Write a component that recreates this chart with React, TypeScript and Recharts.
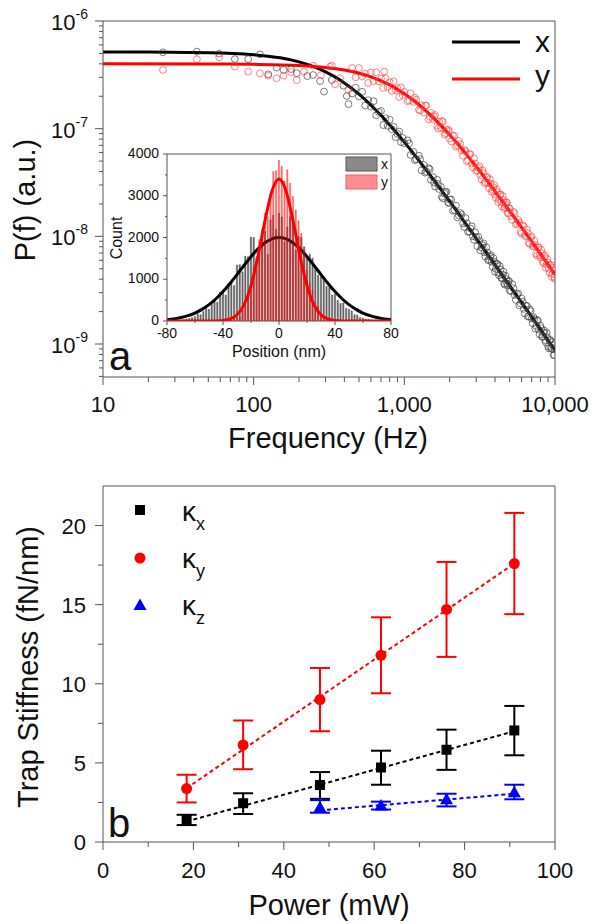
import React from 'react';
import {
  ComposedChart,
  Scatter,
  Line,
  Bar,
  XAxis,
  YAxis,
  ReferenceLine,
  ErrorBar,
  CartesianGrid,
} from 'recharts';

const FONT = '"Liberation Sans", Arial, Helvetica, sans-serif';
const AXIS = '#555';
const INK = '#111';

// ---------- panel a: power spectra ----------
const blackFreq = [
  25, 42, 59, 75, 92, 110, 125, 142, 158, 177, 193, 227, 248, 276, 293, 330, 394, 415, 426,
  450, 475, 500, 525, 550, 575, 600, 625, 650, 675, 700, 725, 750, 775, 800, 825, 850, 875, 900, 925, 950, 975, 1000,
  1050, 1100, 1150, 1200, 1250, 1300, 1350, 1400, 1450, 1500, 1550, 1600, 1650, 1700, 1750, 1800, 1850, 1900, 1950, 2000,
  2100, 2200, 2300, 2400, 2500, 2600, 2700, 2800, 2900, 3000, 3100, 3200, 3300, 3400, 3500, 3600, 3700, 3800, 3900,
  4000, 4100, 4200, 4300, 4400, 4500, 4600, 4700, 4800, 4900,
  5000, 5200, 5400, 5600, 5800, 6000, 6200, 6400, 6600, 6800, 7000, 7200, 7400, 7600, 7800, 8000, 8200, 8400, 8600,
  8800, 9000, 9200, 9400, 9600, 9800, 9950,
];
const blackPsd = [
  5.12e-7, 5.2e-7, 4.97e-7, 4.43e-7, 4.43e-7, 4.9e-7, 3.2e-7, 3.69e-7, 3.51e-7, 3.58e-7, 3.27e-7, 3.08e-7, 3.15e-7,
  2.77e-7, 2.21e-7, 2.83e-7, 2.51e-7, 2.01e-7, 1.69e-7,
  2.12e-7, 2.4e-7, 1.99e-7, 2.2e-7, 1.64e-7, 1.84e-7, 1.6e-7, 1.8e-7, 1.33e-7, 1.43e-7, 1.46e-7, 1.08e-7, 1.25e-7,
  1.06e-7, 1.21e-7, 9.9e-8, 1.04e-7, 8.35e-8, 8.95e-8, 9.4e-8, 7.5e-8, 8.2e-8, 7.3e-8,
  7.8e-8, 5.7e-8, 6.1e-8, 5.2e-8, 5.6e-8, 4.1e-8, 4.6e-8, 4.0e-8, 4.3e-8, 3.35e-8, 3.55e-8, 2.9e-8, 3.35e-8, 2.75e-8,
  2.88e-8, 2.26e-8, 2.5e-8, 2.6e-8, 2.08e-8, 2.2e-8,
  1.73e-8, 1.93e-8, 1.56e-8, 1.6e-8, 1.22e-8, 1.32e-8, 1.11e-8, 1.24e-8, 9.3e-9, 9.8e-9, 9.9e-9, 7.4e-9, 8.3e-9,
  7.1e-9, 7.9e-9, 6.0e-9, 6.5e-9, 5.8e-9, 6.3e-9,
  4.7e-9, 5.5e-9, 4.6e-9, 5.3e-9, 4.1e-9, 4.4e-9, 3.65e-9, 4.3e-9, 3.65e-9, 3.8e-9,
  3.15e-9, 3.6e-9, 2.85e-9, 2.9e-9, 2.28e-9, 2.65e-9, 2.12e-9, 2.26e-9, 1.8e-9, 2.1e-9, 1.72e-9, 1.78e-9, 1.39e-9,
  1.67e-9, 1.36e-9, 1.48e-9, 1.17e-9, 1.28e-9, 1.09e-9, 1.27e-9, 9.5e-10, 1.08e-9, 9.2e-10, 1.04e-9, 7.9e-10, 8.9e-10,
];

const redFreq = [
  25, 42, 59, 75, 92, 110, 125, 142, 158, 177, 193, 216, 248, 280, 321, 330, 347, 375, 426,
  450, 475, 500, 525, 550, 575, 600, 625, 650, 675, 700, 725, 735, 750, 775, 800, 825, 850, 875, 900, 925, 950, 975, 1000,
  1050, 1100, 1150, 1200, 1250, 1300, 1350, 1400, 1450, 1500, 1550, 1600, 1650, 1700, 1750, 1800, 1850, 1900, 1950, 2000,
  2100, 2200, 2300, 2400, 2500, 2600, 2700, 2800, 2900, 3000, 3100, 3200, 3300, 3400, 3500, 3600, 3700, 3800, 3900,
  4000, 4100, 4200, 4300, 4400, 4500, 4600, 4700, 4800, 4900,
  5000, 5200, 5400, 5600, 5800, 6000, 6200, 6400, 6600, 6800, 7000, 7200, 7400, 7600, 7800, 8000, 8200, 8400, 8600,
  8800, 9000, 9200, 9400, 9600, 9800, 9950,
];
const redPsd = [
  3.51e-7, 4.41e-7, 4.6e-7, 3.77e-7, 3.39e-7, 3.27e-7, 3.1e-7, 2.94e-7, 3.1e-7, 3.35e-7, 2.83e-7, 3.39e-7, 3.85e-7,
  3.15e-7, 3.77e-7, 3.85e-7, 2.58e-7, 2.94e-7, 2.29e-7,
  3.66e-7, 3.0e-7, 3.66e-7, 3.05e-7, 3.24e-7, 2.66e-7, 3.33e-7, 2.76e-7, 3.34e-7, 2.75e-7, 2.92e-7, 2.39e-7, 3.39e-7,
  2.93e-7, 2.44e-7, 2.7e-7, 2.24e-7, 2.75e-7, 2.28e-7, 2.37e-7, 1.97e-7, 2.42e-7, 2.05e-7, 2.19e-7,
  1.8e-7, 2.13e-7, 1.77e-7, 1.86e-7, 1.5e-7, 1.65e-7, 1.41e-7, 1.64e-7, 1.22e-7, 1.4e-7, 1.23e-7, 1.34e-7, 1.06e-7,
  1.16e-7, 1.02e-7, 1.16e-7, 8.8e-8, 9.7e-8, 9.8e-8, 8.1e-8,
  8.6e-8, 6.8e-8, 7.7e-8, 6.26e-8, 6.33e-8, 4.96e-8, 5.8e-8, 4.76e-8, 5.3e-8, 4.04e-8, 4.3e-8, 3.71e-8, 4.1e-8,
  3.12e-8, 3.53e-8, 3.1e-8, 3.4e-8, 2.59e-8, 2.86e-8,
  2.44e-8, 2.73e-8, 2.08e-8, 2.43e-8, 2.08e-8, 2.37e-8, 1.81e-8, 1.97e-8, 2.05e-8, 1.65e-8,
  1.81e-8, 1.42e-8, 1.64e-8, 1.32e-8, 1.34e-8, 1.06e-8, 1.24e-8, 1.0e-8, 1.07e-8, 8.5e-9, 1.0e-8, 8.1e-9, 8.3e-9,
  6.6e-9, 7.9e-9, 6.4e-9, 6.96e-9, 5.63e-9, 6.64e-9, 5.5e-9, 5.69e-9, 4.61e-9, 5.42e-9, 4.47e-9, 4.85e-9, 4.03e-9,
];

// second, interleaved set of spectrum points (the band is dense above 1 kHz)
const extraFreq = [
  1075, 1175, 1275, 1375, 1475, 1575, 1675, 1775, 1875, 1975,
  2050, 2150, 2250, 2350, 2450, 2550, 2650, 2750, 2850, 2950, 3050, 3150, 3250, 3350, 3450, 3550, 3650, 3750, 3850, 3950,
  4050, 4150, 4250, 4350, 4450, 4550, 4650, 4750, 4850, 4950,
  5100, 5300, 5500, 5700, 5900, 6100, 6300, 6500, 6700, 6900, 7100, 7300, 7500, 7700, 7900, 8100, 8300, 8500, 8700,
  8900, 9100, 9300, 9500, 9700, 9900,
];
const blackExtra = [
  7.3e-8, 5.1e-8, 5.2e-8, 3.9e-8, 4.2e-8, 3.15e-8, 3.07e-8, 2.33e-8, 2.57e-8, 2.03e-8,
  2.2e-8, 1.76e-8, 1.5e-8, 1.65e-8, 1.32e-8, 1.48e-8, 1.1e-8, 1.18e-8, 1.0e-8, 1.09e-8, 8.1e-9, 9.1e-9, 7.9e-9, 8.6e-9,
  6.5e-9, 7.1e-9, 6.1e-9, 6.7e-9, 5.2e-9, 5.85e-9,
  5.0e-9, 5.55e-9, 4.35e-9, 4.9e-9, 4.1e-9, 4.7e-9, 3.55e-9, 4.0e-9, 3.5e-9, 3.85e-9,
  3.1e-9, 3.3e-9, 2.57e-9, 2.95e-9, 2.38e-9, 2.47e-9, 1.92e-9, 2.26e-9, 1.81e-9, 2.02e-9, 1.56e-9, 1.71e-9, 1.47e-9,
  1.65e-9, 1.23e-9, 1.4e-9, 1.17e-9, 1.33e-9, 1.04e-9, 1.15e-9, 9.1e-10, 1.09e-9, 9.0e-10, 9.8e-10, 7.9e-10,
];
const redExtra = [
  1.83e-7, 1.94e-7, 1.47e-7, 1.64e-7, 1.29e-7, 1.3e-7, 1.0e-7, 1.18e-7, 9.1e-8, 9.5e-8,
  7.6e-8, 8.6e-8, 6.97e-8, 7.2e-8, 5.6e-8, 6.2e-8, 5.1e-8, 5.8e-8, 4.37e-8, 4.75e-8, 4.1e-8, 4.47e-8, 3.38e-8, 3.86e-8,
  3.2e-8, 3.56e-8, 2.8e-8, 3.08e-8, 2.68e-8, 3.0e-8,
  2.28e-8, 2.57e-8, 2.2e-8, 2.46e-8, 1.89e-8, 2.18e-8, 1.87e-8, 2.07e-8, 1.64e-8, 1.82e-8,
  1.54e-8, 1.69e-8, 1.29e-8, 1.42e-8, 1.1e-8, 1.26e-8, 1.03e-8, 1.16e-8, 8.7e-9, 9.7e-9, 8.1e-9, 9.1e-9, 6.9e-9,
  7.9e-9, 6.7e-9, 7.5e-9, 5.8e-9, 6.4e-9, 5.1e-9, 6.15e-9, 5.0e-9, 5.4e-9, 4.2e-9, 5.1e-9, 4.17e-9,
];

// Lorentzian fits
const blackFitFreq = [10, 20, 50, 100, 150, 200, 250, 300, 350, 400, 500, 600, 700, 800, 1000, 1200, 1500, 2000, 2500, 3000, 4000, 5000, 6000, 7000, 8000, 10000];
const blackFitPsd = [5.15e-7, 5.14e-7, 5.08e-7, 4.86e-7, 4.55e-7, 4.17e-7, 3.77e-7, 3.37e-7, 3.0e-7, 2.66e-7, 2.09e-7, 1.65e-7, 1.33e-7, 1.08e-7, 7.5e-8, 5.45e-8, 3.63e-8, 2.11e-8, 1.37e-8, 9.57e-9, 5.43e-9, 3.49e-9, 2.43e-9, 1.79e-9, 1.37e-9, 8.77e-10];
const redFitFreq = [10, 50, 100, 200, 300, 400, 500, 600, 700, 800, 1000, 1200, 1500, 2000, 2500, 3000, 4000, 5000, 6000, 7000, 8000, 10000];
const redFitPsd = [4.0e-7, 3.99e-7, 3.96e-7, 3.86e-7, 3.7e-7, 3.5e-7, 3.27e-7, 3.03e-7, 2.78e-7, 2.55e-7, 2.11e-7, 1.75e-7, 1.33e-7, 8.76e-8, 6.09e-8, 4.44e-8, 2.62e-8, 1.72e-8, 1.21e-8, 8.96e-9, 6.89e-9, 4.44e-9];

const psdXTicks = [10, 20, 30, 40, 50, 60, 70, 80, 90, 100, 200, 300, 400, 500, 600, 700, 800, 900, 1000, 2000, 3000, 4000, 5000, 6000, 7000, 8000, 9000, 10000];
const psdXMajor = [10, 100, 1000, 10000];
const psdXLabels = ['10', '100', '1,000', '10,000'];
const psdYTicks = [
  5e-10, 6e-10, 7e-10, 8e-10, 9e-10, 1e-9, 2e-9, 3e-9, 4e-9, 5e-9, 6e-9, 7e-9, 8e-9, 9e-9,
  1e-8, 2e-8, 3e-8, 4e-8, 5e-8, 6e-8, 7e-8, 8e-8, 9e-8, 1e-7, 2e-7, 3e-7, 4e-7, 5e-7, 6e-7, 7e-7, 8e-7, 9e-7, 1e-6,
];
const psdYMajor = [1e-9, 1e-8, 1e-7, 1e-6];
const psdYExp = ['-9', '-8', '-7', '-6'];

// ---------- inset: position histograms ----------
const histPos = [
  -70, -68, -66, -64, -62, -60, -58, -56, -54, -52, -50, -48, -46, -44, -42, -40, -38, -36, -34, -32, -30, -28, -26, -24,
  -22, -20, -18, -16, -14, -12, -10, -8, -6, -4, -2, 0, 2, 4, 6, 8, 10, 12, 14, 16, 18, 20, 22, 24, 26, 28, 30, 32, 34,
  36, 38, 40, 42, 44, 46, 48, 50, 52, 54, 56, 58, 60, 62, 64, 66, 68, 70,
];
const histX = [
  20, 30, 45, 60, 80, 110, 170, 150, 230, 300, 280, 420, 500, 450, 690, 700, 620, 900, 940, 850, 1340, 1350, 1180, 1550,
  1540, 2010, 2000, 1500, 1700, 2050, 2150, 1600, 2420, 2530, 2200, 2580, 2490, 1900, 2250, 2500, 2340, 1700, 2020, 2000,
  1780, 1500, 1600, 1500, 1260, 1100, 1060, 1000, 830, 800, 620, 640, 500, 420, 430, 300, 280, 240, 150, 140, 90, 70, 50,
  40, 25, 15, 10,
];
const histY = [
  0, 0, 0, 0, 0, 0, 0, 0, 0, 0, 0, 0, 0, 0, 0, 0, 0, 10, 20, 40, 70, 100, 260, 400, 700, 900, 1300, 1540, 1950, 2200,
  2580, 2500, 3000, 3580, 3600, 3850, 3700, 3350, 3620, 3300, 2980, 2660, 2400, 2100, 1700, 1220, 900, 740, 420, 340,
  150, 100, 40, 20, 0, 0, 0, 0, 0, 0, 0, 0, 0, 0, 0, 0, 0, 0, 0, 0, 0,
];
const fitPos = [-80, -75, -70, -65, -60, -55, -50, -45, -40, -35, -30, -25, -20, -15, -10, -5, 0, 5, 10, 15, 20, 25, 30, 35, 40, 45, 50, 55, 60, 65, 70, 75, 80];
const fitX = [31, 51, 82, 127, 191, 278, 391, 533, 704, 899, 1112, 1330, 1541, 1727, 1874, 1968, 2000, 1968, 1874, 1727, 1541, 1330, 1112, 899, 704, 533, 391, 278, 191, 127, 82, 51, 31];
const fitY = [0, 0, 0, 0, 0, 0, 0, 2, 13, 48, 149, 388, 848, 1557, 2403, 3117, 3400, 3117, 2403, 1557, 848, 388, 149, 48, 13, 2, 0, 0, 0, 0, 0, 0, 0];

const insetXTicks = [-80, -60, -40, -20, 0, 20, 40, 60, 80];
const insetXMajor = [-80, -40, 0, 40, 80];
const insetXLabels = ['-80', '-40', '0', '40', '80'];
const insetYTicks = [0, 500, 1000, 1500, 2000, 2500, 3000, 3500, 4000];
const insetYMajor = [0, 1000, 2000, 3000, 4000];
const insetYLabels = ['0', '1000', '2000', '3000', '4000'];

// ---------- panel b: trap stiffness ----------
const power = [18.5, 31, 48, 61.5, 76, 91];
const kx = [1.42, 2.45, 3.6, 4.71, 5.83, 7.05];
const kxHi = [1.72, 3.08, 4.42, 5.77, 7.1, 8.6];
const kxLo = [1.07, 1.77, 2.73, 3.62, 4.56, 5.48];
const ky = [3.38, 6.13, 9.0, 11.8, 14.7, 17.6];
const kyHi = [4.25, 7.68, 11.0, 14.2, 17.7, 20.8];
const kyLo = [2.5, 4.6, 7.0, 9.4, 11.7, 14.4];
const powerZ = [48, 61.5, 76, 91];
const kz = [2.2, 2.3, 2.7, 3.15];
const kzHi = [2.65, 2.55, 3.05, 3.62];
const kzLo = [1.85, 2.05, 2.25, 2.7];
const kxFitP = [18.5, 91];
const kxFit = [1.3, 7.0];
const kyFitP = [18.5, 91];
const kyFit = [3.4, 17.6];
const kzFitP = [48, 91];
const kzFit = [2.0, 3.05];

const stiffXTicks = [0, 10, 20, 30, 40, 50, 60, 70, 80, 90, 100];
const stiffXMajor = [0, 20, 40, 60, 80, 100];
const stiffXLabels = ['0', '20', '40', '60', '80', '100'];
const stiffYTicks = [0, 2.5, 5, 7.5, 10, 12.5, 15, 17.5, 20];
const stiffYMajor = [0, 5, 10, 15, 20];
const stiffYLabels = ['0', '5', '10', '15', '20'];

const pts = (xs: number[], ys: number[]) => xs.map((f, i) => ({ f, p: ys[i] }));
const stiff = (xs: number[], v: number[], hi: number[], lo: number[]) =>
  xs.map((p, i) => ({ p, v: v[i], err: [v[i] - lo[i], hi[i] - v[i]] }));

// ticks are drawn by hand so minor ones can be shorter and labels can carry superscripts
function BottomTick(props: any) {
  const { x, y, payload, majors, labels, big = 8, small = 5, fontSize = 22, dy = 35 } = props;
  const i = majors.indexOf(payload.value);
  return (
    <g>
      <line x1={x} x2={x} y1={y} y2={y + (i >= 0 ? big : small)} stroke={AXIS} strokeWidth={1} />
      {i >= 0 && (
        <text x={x} y={y + dy} textAnchor="middle" fontSize={fontSize} fontFamily={FONT} fill={INK}>
          {labels[i]}
        </text>
      )}
    </g>
  );
}

function LeftTick(props: any) {
  const { x, y, payload, majors, labels, big = 8, small = 5, fontSize = 22, gap = 16, dy = 8 } = props;
  const i = majors.indexOf(payload.value);
  return (
    <g>
      <line x1={x} x2={x - (i >= 0 ? big : small)} y1={y} y2={y} stroke={AXIS} strokeWidth={1} />
      {i >= 0 && (
        <text x={x - gap} y={y + dy} textAnchor="end" fontSize={fontSize} fontFamily={FONT} fill={INK}>
          {labels[i]}
        </text>
      )}
    </g>
  );
}

function PowTick(props: any) {
  const { x, y, payload } = props;
  const i = psdYMajor.indexOf(payload.value);
  return (
    <g>
      <line x1={x} x2={x - (i >= 0 ? 8 : 4)} y1={y} y2={y} stroke={AXIS} strokeWidth={1} />
      {i >= 0 && (
        <text x={x - 15} y={y + 9} textAnchor="end" fontSize={22} fontFamily={FONT} fill={INK}>
          10
          <tspan dy={-11} fontSize={14}>
            {psdYExp[i]}
          </tspan>
        </text>
      )}
    </g>
  );
}

const ring = (color: string) => (p: any) =>
  <circle cx={p.cx} cy={p.cy} r={3.4} fill="none" stroke={color} strokeWidth={1} />;

const blackRing = ring('rgba(60,60,60,0.68)');
const redRing = ring('rgba(255,55,55,0.62)');

function PsdPanel() {
  return (
    <ComposedChart width={594} height={470} margin={{ top: 21, right: 39, bottom: 33, left: 33 }}>
      <XAxis
        dataKey="f"
        type="number"
        scale="log"
        domain={[10, 10000]}
        allowDataOverflow
        ticks={psdXTicks}
        interval={0}
        height={60}
        tickSize={0}
        tickMargin={0}
        tickLine={false}
        axisLine={{ stroke: AXIS }}
        tick={(p: any) => <BottomTick {...p} majors={psdXMajor} labels={psdXLabels} />}
      />
      <YAxis
        dataKey="p"
        type="number"
        scale="log"
        domain={[4.94e-10, 1e-6]}
        allowDataOverflow
        ticks={psdYTicks}
        interval={0}
        width={70}
        tickSize={0}
        tickMargin={0}
        tickLine={false}
        axisLine={{ stroke: AXIS }}
        tick={(p: any) => <PowTick {...p} />}
      />
      <ReferenceLine y={1e-6} stroke={AXIS} ifOverflow="visible" />
      <ReferenceLine x={10000} stroke={AXIS} ifOverflow="visible" />
      <Scatter data={pts(blackFreq, blackPsd)} shape={blackRing} isAnimationActive={false} />
      <Scatter data={pts(extraFreq, blackExtra)} shape={blackRing} isAnimationActive={false} />
      <Scatter data={pts(redFreq, redPsd)} shape={redRing} isAnimationActive={false} />
      <Scatter data={pts(extraFreq, redExtra)} shape={redRing} isAnimationActive={false} />
      <Line data={pts(blackFitFreq, blackFitPsd)} dataKey="p" type="monotone" stroke="#000" strokeWidth={3} dot={false} isAnimationActive={false} />
      <Line data={pts(redFitFreq, redFitPsd)} dataKey="p" type="monotone" stroke="#ff0000" strokeWidth={3} dot={false} isAnimationActive={false} />
    </ComposedChart>
  );
}

const histRows = histPos.map((pos, i) => ({ pos, x: histX[i], y: histY[i] }));

function InsetLayer({ which }: { which: 'x' | 'y' }) {
  const front = which === 'y';
  const fit = fitPos.map((pos, i) => ({ pos, c: front ? fitY[i] : fitX[i] }));
  return (
    <ComposedChart width={300} height={230} data={histRows} margin={{ top: 14, right: 9, bottom: 9, left: 0 }}>
      {!front && <CartesianGrid horizontal={false} vertical={false} fill="#fff" />}
      <XAxis
        dataKey="pos"
        type="number"
        domain={[-80, 80]}
        allowDataOverflow
        ticks={insetXTicks}
        interval={0}
        height={40}
        tickSize={0}
        tickMargin={0}
        tickLine={false}
        axisLine={front ? false : { stroke: AXIS }}
        tick={front ? false : (p: any) => <BottomTick {...p} majors={insetXMajor} labels={insetXLabels} big={4} small={2} fontSize={14} dy={17} />}
      />
      <YAxis
        type="number"
        domain={[0, 4000]}
        allowDataOverflow
        ticks={insetYTicks}
        interval={0}
        width={67}
        tickSize={0}
        tickMargin={0}
        tickLine={false}
        axisLine={front ? false : { stroke: AXIS }}
        tick={front ? false : (p: any) => <LeftTick {...p} majors={insetYMajor} labels={insetYLabels} big={4} small={2} fontSize={14} gap={8} dy={4} />}
      />
      {!front && <ReferenceLine y={4000} stroke={AXIS} ifOverflow="visible" />}
      {!front && <ReferenceLine x={80} stroke={AXIS} ifOverflow="visible" />}
      <Bar
        dataKey={which}
        barSize={2.8}
        fill={front ? 'rgba(255,30,30,0.55)' : 'rgba(70,70,70,0.72)'}
        stroke={front ? 'rgba(230,0,0,0.6)' : 'rgba(20,20,20,0.7)'}
        strokeWidth={0.5}
        isAnimationActive={false}
      />
      <Line data={fit} dataKey="c" type="monotone" stroke={front ? '#ff0000' : '#000'} strokeWidth={3} dot={false} isAnimationActive={false} />
    </ComposedChart>
  );
}

const square = (p: any) => <rect x={p.cx - 5} y={p.cy - 5} width={10} height={10} fill="#000" />;
const dotRed = (p: any) => <circle cx={p.cx} cy={p.cy} r={5.5} fill="#ff0000" />;
const triBlue = (p: any) => (
  <path d={`M${p.cx},${p.cy - 6.5} L${p.cx + 6.5},${p.cy + 5} L${p.cx - 6.5},${p.cy + 5} Z`} fill="#0000ff" />
);

function StiffnessPanel() {
  return (
    <ComposedChart width={594} height={464} margin={{ top: 26, right: 39, bottom: 22, left: 33 }}>
      <XAxis
        dataKey="p"
        type="number"
        domain={[0, 100]}
        allowDataOverflow
        ticks={stiffXTicks}
        interval={0}
        height={60}
        tickSize={0}
        tickMargin={0}
        tickLine={false}
        axisLine={{ stroke: AXIS }}
        tick={(p: any) => <BottomTick {...p} majors={stiffXMajor} labels={stiffXLabels} dy={36} />}
      />
      <YAxis
        dataKey="v"
        type="number"
        domain={[0, 22.5]}
        allowDataOverflow
        ticks={stiffYTicks}
        interval={0}
        width={70}
        tickSize={0}
        tickMargin={0}
        tickLine={false}
        axisLine={{ stroke: AXIS }}
        tick={(p: any) => <LeftTick {...p} majors={stiffYMajor} labels={stiffYLabels} gap={17} />}
      />
      <ReferenceLine y={22.5} stroke={AXIS} ifOverflow="visible" />
      <ReferenceLine x={100} stroke={AXIS} ifOverflow="visible" />
      <Line data={kxFitP.map((p, i) => ({ p, v: kxFit[i] }))} dataKey="v" stroke="#000" strokeWidth={2} strokeDasharray="4 3" dot={false} isAnimationActive={false} />
      <Line data={kyFitP.map((p, i) => ({ p, v: kyFit[i] }))} dataKey="v" stroke="#ff0000" strokeWidth={2} strokeDasharray="4 3" dot={false} isAnimationActive={false} />
      <Line data={kzFitP.map((p, i) => ({ p, v: kzFit[i] }))} dataKey="v" stroke="#0000ff" strokeWidth={2} strokeDasharray="4 3" dot={false} isAnimationActive={false} />
      <Scatter data={stiff(power, kx, kxHi, kxLo)} shape={square} isAnimationActive={false}>
        <ErrorBar dataKey="err" direction="y" width={10} stroke="#000" strokeWidth={2} />
      </Scatter>
      <Scatter data={stiff(power, ky, kyHi, kyLo)} shape={dotRed} isAnimationActive={false}>
        <ErrorBar dataKey="err" direction="y" width={10} stroke="#ff0000" strokeWidth={2} />
      </Scatter>
      <Scatter data={stiff(powerZ, kz, kzHi, kzLo)} shape={triBlue} isAnimationActive={false}>
        <ErrorBar dataKey="err" direction="y" width={10} stroke="#0000ff" strokeWidth={2} />
      </Scatter>
    </ComposedChart>
  );
}

function Labels() {
  const t = { fontFamily: FONT, fill: INK };
  return (
    <svg width={594} height={924} style={{ position: 'absolute', left: 0, top: 0, pointerEvents: 'none' }}>
      {/* panel a */}
      <text {...t} fontSize={29} textAnchor="middle" transform="translate(35,200) rotate(-90)">P(f) (a.u.)</text>
      <text {...t} fontSize={29} textAnchor="middle" x={328} y={448}>Frequency (Hz)</text>
      <text {...t} fontSize={40} x={109} y={370}>a</text>
      <line x1={452} x2={520} y1={42} y2={42} stroke="#000" strokeWidth={3} />
      <text {...t} fontSize={30} x={535} y={52}>x</text>
      <line x1={452} x2={520} y1={79} y2={79} stroke="#ff0000" strokeWidth={3} />
      <text {...t} fontSize={30} x={535} y={86}>y</text>
      {/* inset */}
      <text {...t} fontSize={16} textAnchor="middle" transform="translate(122,238) rotate(-90)">Count</text>
      <text {...t} fontSize={16} textAnchor="middle" x={279} y={357}>Position (nm)</text>
      <rect x={346} y={157} width={31} height={14} fill="#8a8a8a" stroke="#555" />
      <text {...t} fontSize={14} x={381} y={169}>x</text>
      <rect x={346} y={175} width={31} height={14} fill="#ff8f8f" stroke="#ff5a5a" />
      <text {...t} fontSize={14} x={381} y={187}>y</text>
      {/* panel b */}
      <text {...t} fontSize={29} textAnchor="middle" transform="translate(38,667) rotate(-90)">Trap Stiffness (fN/nm)</text>
      <text {...t} fontSize={29} textAnchor="middle" x={329} y={915}>Power (mW)</text>
      <text {...t} fontSize={40} x={108} y={837}>b</text>
      <rect x={135} y={505} width={10} height={10} fill="#000" />
      <text {...t} fontSize={28} x={182} y={521}>κ<tspan fontSize={18} dy={9}>x</tspan></text>
      <circle cx={140} cy={558} r={5.5} fill="#ff0000" />
      <text {...t} fontSize={28} x={182} y={568}>κ<tspan fontSize={18} dy={9}>y</tspan></text>
      <path d="M140,598.5 L146.5,610 L133.5,610 Z" fill="#0000ff" />
      <text {...t} fontSize={28} x={182} y={615}>κ<tspan fontSize={18} dy={9}>z</tspan></text>
    </svg>
  );
}

export default function App() {
  return (
    <div style={{ position: 'absolute', left: 0, top: 0, width: 594, height: 924, background: '#fff', fontFamily: FONT }}>
      <div style={{ position: 'absolute', left: 0, top: 0 }}>
        <PsdPanel />
      </div>
      <div style={{ position: 'absolute', left: 100, top: 140 }}>
        <InsetLayer which="x" />
      </div>
      <div style={{ position: 'absolute', left: 100, top: 140 }}>
        <InsetLayer which="y" />
      </div>
      <div style={{ position: 'absolute', left: 0, top: 460 }}>
        <StiffnessPanel />
      </div>
      <Labels />
    </div>
  );
}
